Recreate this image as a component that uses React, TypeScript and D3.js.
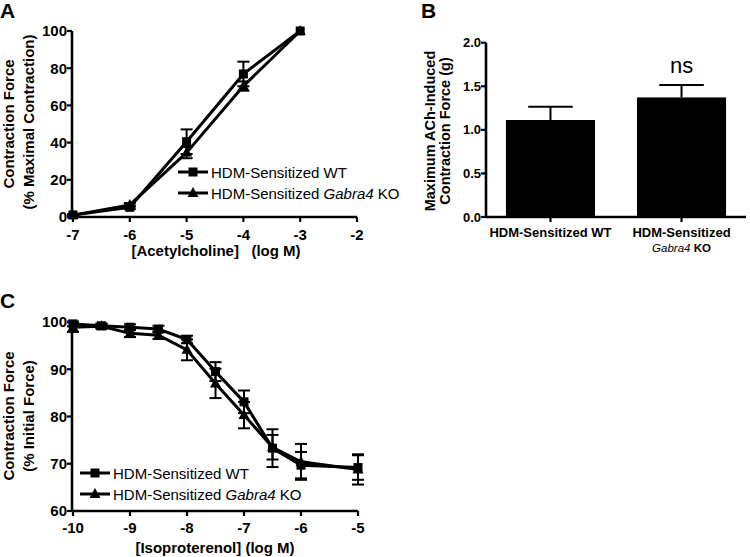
import React from "react";
import * as d3 from "d3";

// ---------- Panel A: acetylcholine dose-response ----------
const achDoses = [-7, -6, -5, -4, -3];
const achWT = [1.1, 5.2, 40.5, 76.9, 100];
const achWTErr = [0.5, 1.0, 6.6, 6.6, 0];
const achKO = [1.0, 6.5, 34.6, 70.4, 100];
const achKOErr = [0.5, 1.0, 3.0, 2.5, 0];
const achXTicks = [-7, -6, -5, -4, -3, -2];
const achYTicks = [0, 20, 40, 60, 80, 100];

// ---------- Panel B: maximum force bars ----------
const barGroups = ["WT", "KO"];
const barMeans = [1.113, 1.372];
const barErr = [0.153, 0.143];
const barYTicks = [0, 0.5, 1.0, 1.5, 2.0];

// ---------- Panel C: isoproterenol relaxation ----------
const isoDoses = [-10, -9.5, -9, -8.5, -8, -7.5, -7, -6.5, -6, -5];
const isoWT = [99.6, 99.2, 98.9, 98.5, 96.3, 89.5, 83.1, 73.3, 69.7, 69.2];
const isoWTErr = [0.5, 0.5, 0.6, 0.7, 0.8, 2.0, 2.4, 4.0, 2.8, 2.6];
const isoKO = [98.9, 99.1, 97.6, 97.2, 94.1, 87.0, 80.3, 73.5, 70.4, 68.8];
const isoKOErr = [1.0, 0.5, 0.8, 0.8, 2.2, 3.1, 2.8, 2.6, 3.8, 3.2];
const isoXTicks = [-10, -9, -8, -7, -6, -5];
const isoYTicks = [60, 70, 80, 90, 100];

const FONT = "'Liberation Sans', Arial, Helvetica, sans-serif";
const fmt = (v: number) => (v < 0 ? "-" + Math.abs(v) : String(v));

function Square({ x, y, s = 9 }: { x: number; y: number; s?: number }) {
  return <rect x={x - s / 2} y={y - s / 2} width={s} height={s} fill="#000" />;
}
function Triangle({ x, y, s = 11 }: { x: number; y: number; s?: number }) {
  const h = s * 0.9;
  return (
    <path
      d={`M${x},${y - h * 0.6} L${x + s / 2},${y + h * 0.4} L${x - s / 2},${y + h * 0.4} Z`}
      fill="#000"
    />
  );
}

function ErrBar({ x, y1, y2, cap = 12 }: { x: number; y1: number; y2: number; cap?: number }) {
  return (
    <g stroke="#000" strokeWidth={2}>
      <line x1={x} x2={x} y1={y1} y2={y2} />
      <line x1={x - cap / 2} x2={x + cap / 2} y1={y1} y2={y1} />
      <line x1={x - cap / 2} x2={x + cap / 2} y1={y2} y2={y2} />
    </g>
  );
}

function Series({
  xs, ys, errs, xScale, yScale, marker,
}: {
  xs: number[]; ys: number[]; errs: number[];
  xScale: d3.ScaleLinear<number, number>; yScale: d3.ScaleLinear<number, number>;
  marker: "square" | "triangle";
}) {
  const pts = xs.map((x, i) => [x, ys[i]] as [number, number]);
  const line = d3.line<[number, number]>().x((d) => xScale(d[0])).y((d) => yScale(d[1]));
  return (
    <g>
      {xs.map((x, i) =>
        errs[i] > 0.3 ? (
          <ErrBar key={"e" + i} x={xScale(x)} y1={yScale(ys[i] + errs[i])} y2={yScale(ys[i] - errs[i])} />
        ) : null
      )}
      <path d={line(pts) || ""} fill="none" stroke="#000" strokeWidth={3} strokeLinejoin="round" />
      {xs.map((x, i) =>
        marker === "square" ? (
          <Square key={"m" + i} x={xScale(x)} y={yScale(ys[i])} />
        ) : (
          <Triangle key={"m" + i} x={xScale(x)} y={yScale(ys[i])} />
        )
      )}
    </g>
  );
}

function LegendRow({ x, y, marker, children }: { x: number; y: number; marker: "square" | "triangle"; children: React.ReactNode }) {
  return (
    <g>
      <line x1={x} x2={x + 30} y1={y} y2={y} stroke="#000" strokeWidth={3} />
      {marker === "square" ? <Square x={x + 15} y={y} /> : <Triangle x={x + 15} y={y} />}
      <text x={x + 33} y={y + 5.5} fontSize={15} fontFamily={FONT}>
        {children}
      </text>
    </g>
  );
}

export default function App() {
  // Panel A scales
  const ax = d3.scaleLinear().domain([-7, -2]).range([73, 357]);
  const ay = d3.scaleLinear().domain([0, 100]).range([217, 31]);
  // Panel B scales
  const bx = d3.scaleBand<string>().domain(barGroups).range([486, 746]).paddingInner(0.32).paddingOuter(0.152);
  const by = d3.scaleLinear().domain([0, 2]).range([217, 42.7]);
  // Panel C scales
  const cx = d3.scaleLinear().domain([-10, -5]).range([73, 358]);
  const cy = d3.scaleLinear().domain([60, 100]).range([511, 322]);

  const axisStroke = 2.6;

  return (
    <svg
      width={750}
      height={557}
      style={{ position: "absolute", left: 0, top: 0, background: "#fff" }}
      fontFamily={FONT}
    >
      <rect width={750} height={557} fill="#fff" />

      {/* Panel letters */}
      <text x={0} y={18} fontSize={21} fontWeight="bold">A</text>
      <text x={421} y={18} fontSize={21} fontWeight="bold">B</text>
      <text x={0} y={308} fontSize={21} fontWeight="bold">C</text>

      {/* ================= Panel A ================= */}
      <g>
        <line x1={72} x2={72} y1={ay(0) + 1} y2={ay(100)} stroke="#000" strokeWidth={axisStroke} />
        <line x1={72} x2={ax(-2)} y1={ay(0)} y2={ay(0)} stroke="#000" strokeWidth={axisStroke} />
        {achYTicks.map((t) => (
          <g key={t}>
            <line x1={67} x2={72} y1={ay(t)} y2={ay(t)} stroke="#000" strokeWidth={2.2} />
            <text x={67} y={ay(t) + 5.3} textAnchor="end" fontSize={15} fontWeight="bold">{t}</text>
          </g>
        ))}
        {achXTicks.map((t) => (
          <g key={t}>
            <line x1={ax(t)} x2={ax(t)} y1={ay(0)} y2={ay(0) + 5} stroke="#000" strokeWidth={2.2} />
            <text x={ax(t)} y={239.5} textAnchor="middle" fontSize={15} fontWeight="bold">{fmt(t)}</text>
          </g>
        ))}
        <text x={216} y={256} textAnchor="middle" fontSize={15} fontWeight="bold" style={{ whiteSpace: "pre" }}>
          {"[Acetylcholine]   (log M)"}
        </text>
        <text transform="translate(13.5,124) rotate(-90)" textAnchor="middle" fontSize={15} fontWeight="bold">
          Contraction Force
        </text>
        <text transform="translate(33.5,122) rotate(-90)" textAnchor="middle" fontSize={15} fontWeight="bold">
          (% Maximal Contraction)
        </text>
        <Series xs={achDoses} ys={achKO} errs={achKOErr} xScale={ax} yScale={ay} marker="triangle" />
        <Series xs={achDoses} ys={achWT} errs={achWTErr} xScale={ax} yScale={ay} marker="square" />
        <LegendRow x={178} y={172} marker="square">HDM-Sensitized WT</LegendRow>
        <LegendRow x={178} y={193} marker="triangle">
          HDM-Sensitized <tspan fontStyle="italic">Gabra4</tspan> KO
        </LegendRow>
      </g>

      {/* ================= Panel B ================= */}
      <g>
        {barGroups.map((g, i) => {
          const x0 = bx(g) as number;
          const w = bx.bandwidth();
          const cxm = x0 + w / 2;
          return (
            <g key={g}>
              <line x1={cxm} x2={cxm} y1={by(barMeans[i])} y2={by(barMeans[i] + barErr[i])} stroke="#000" strokeWidth={2} />
              <line x1={cxm - w / 4} x2={cxm + w / 4} y1={by(barMeans[i] + barErr[i])} y2={by(barMeans[i] + barErr[i])} stroke="#000" strokeWidth={2} />
              <rect x={x0} y={by(barMeans[i])} width={w} height={by(0) - by(barMeans[i])} fill="#000" />
              <line x1={cxm} x2={cxm} y1={by(0)} y2={by(0) + 5} stroke="#000" strokeWidth={2.2} />
            </g>
          );
        })}
        <line x1={486} x2={486} y1={by(0) + 1} y2={by(2)} stroke="#000" strokeWidth={axisStroke} />
        <line x1={486} x2={746} y1={by(0)} y2={by(0)} stroke="#000" strokeWidth={axisStroke} />
        {barYTicks.map((t) => (
          <g key={t}>
            <line x1={481} x2={486} y1={by(t)} y2={by(t)} stroke="#000" strokeWidth={2.2} />
            <text x={481} y={by(t) + 4.6} textAnchor="end" fontSize={13} fontWeight="bold">{t.toFixed(1)}</text>
          </g>
        ))}
        <text x={(bx("WT") as number) + bx.bandwidth() / 2} y={236.5} textAnchor="middle" fontSize={13} fontWeight="bold">
          HDM-Sensitized WT
        </text>
        <text x={(bx("KO") as number) + bx.bandwidth() / 2} y={236.5} textAnchor="middle" fontSize={13} fontWeight="bold">
          HDM-Sensitized
        </text>
        <text x={(bx("KO") as number) + bx.bandwidth() / 2} y={251.5} textAnchor="middle" fontSize={11.5}>
          <tspan fontStyle="italic">Gabra4</tspan>
          <tspan fontWeight="bold"> KO</tspan>
        </text>
        <text x={(bx("KO") as number) + bx.bandwidth() / 2} y={73} textAnchor="middle" fontSize={22}>ns</text>
        <text transform="translate(435,131) rotate(-90)" textAnchor="middle" fontSize={14.5} fontWeight="bold">
          Maximum ACh-Induced
        </text>
        <text transform="translate(450,131) rotate(-90)" textAnchor="middle" fontSize={14.5} fontWeight="bold">
          Contraction Force (g)
        </text>
      </g>

      {/* ================= Panel C ================= */}
      <g>
        <line x1={72} x2={72} y1={cy(60) + 1} y2={cy(100)} stroke="#000" strokeWidth={axisStroke} />
        <line x1={72} x2={cx(-5)} y1={cy(60)} y2={cy(60)} stroke="#000" strokeWidth={axisStroke} />
        {isoYTicks.map((t) => (
          <g key={t}>
            <line x1={67} x2={72} y1={cy(t)} y2={cy(t)} stroke="#000" strokeWidth={2.2} />
            <text x={67} y={cy(t) + 5.3} textAnchor="end" fontSize={15} fontWeight="bold">{t}</text>
          </g>
        ))}
        {isoXTicks.map((t) => (
          <g key={t}>
            <line x1={cx(t)} x2={cx(t)} y1={cy(60)} y2={cy(60) + 5} stroke="#000" strokeWidth={2.2} />
            <text x={cx(t)} y={532.5} textAnchor="middle" fontSize={15} fontWeight="bold">{fmt(t)}</text>
          </g>
        ))}
        <text x={215} y={552.5} textAnchor="middle" fontSize={15} fontWeight="bold">
          [Isoproterenol] (log M)
        </text>
        <text transform="translate(13.5,416) rotate(-90)" textAnchor="middle" fontSize={15} fontWeight="bold">
          Contraction Force
        </text>
        <text transform="translate(34,416) rotate(-90)" textAnchor="middle" fontSize={15} fontWeight="bold">
          (% Initial Force)
        </text>
        <Series xs={isoDoses} ys={isoKO} errs={isoKOErr} xScale={cx} yScale={cy} marker="triangle" />
        <Series xs={isoDoses} ys={isoWT} errs={isoWTErr} xScale={cx} yScale={cy} marker="square" />
        <LegendRow x={80} y={473} marker="square">HDM-Sensitized WT</LegendRow>
        <LegendRow x={80} y={494} marker="triangle">
          HDM-Sensitized <tspan fontStyle="italic">Gabra4</tspan> KO
        </LegendRow>
      </g>
    </svg>
  );
}
